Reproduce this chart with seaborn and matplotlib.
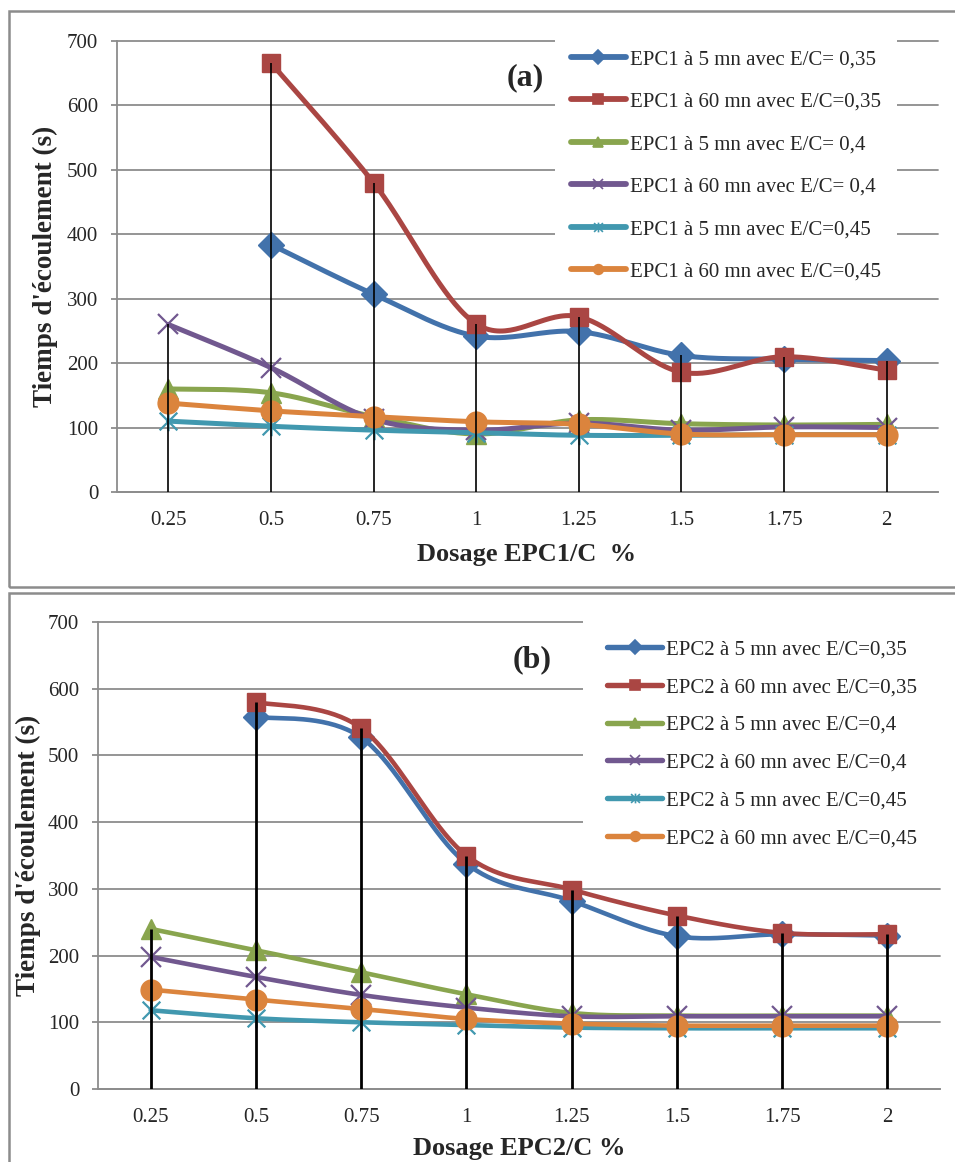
import numpy as np
import matplotlib
matplotlib.use("Agg")
import matplotlib.pyplot as plt
from matplotlib.lines import Line2D
from matplotlib.patches import Rectangle
from matplotlib.path import Path
import seaborn as sns

# ---------------- data ----------------
x_labels = ["0.25", "0.5", "0.75", "1", "1.25", "1.5", "1.75", "2"]
nan = np.nan

labels_a = ["EPC1 à 5 mn avec E/C= 0,35", "EPC1 à 60 mn avec E/C=0,35",
            "EPC1 à 5 mn avec E/C= 0,4", "EPC1 à 60 mn avec E/C= 0,4",
            "EPC1 à 5 mn avec E/C=0,45", "EPC1 à 60 mn avec E/C=0,45"]
a_5_035 = [nan, 384, 307, 242, 249, 212, 206, 204]
a_60_035 = [nan, 666, 480, 261, 272, 186, 210, 189]
a_5_04 = [160, 154, 117, 90, 112, 106, 104, 105]
a_60_04 = [260, 193, 113, 96, 107, 96, 101, 100]
a_5_045 = [110, 102, 96, 92, 88, 88, 89, 89]
a_60_045 = [138, 126, 117, 109, 105, 90, 89, 89]

labels_b = ["EPC2 à 5 mn avec E/C=0,35", "EPC2 à 60 mn avec E/C=0,35",
            "EPC2 à 5 mn avec E/C=0,4", "EPC2 à 60 mn avec E/C=0,4",
            "EPC2 à 5 mn avec E/C=0,45", "EPC2 à 60 mn avec E/C=0,45"]
b_5_035 = [nan, 558, 527, 338, 282, 229, 232, 230]
b_60_035 = [nan, 580, 541, 350, 299, 260, 234, 232]
b_5_04 = [240, 208, 175, 142, 114, 110, 110, 110]
b_60_04 = [198, 168, 141, 122, 109, 109, 109, 109]
b_5_045 = [118, 106, 100, 96, 92, 91, 91, 91]
b_60_045 = [149, 134, 120, 105, 98, 95, 95, 95]

y_ticks = [0, 100, 200, 300, 400, 500, 600, 700]

# ---------------- style ----------------
sns.set_style("white")
plt.rcParams["font.family"] = ["Liberation Serif", "DejaVu Serif"]

colors = ["#4272AB", "#AA4643", "#89A54E", "#71588F", "#4198AF", "#DB843D"]
star = Path([(-1, -1), (1, 1), (-1, 1), (1, -1), (0, -1.1), (0, 1.1)],
            [Path.MOVETO, Path.LINETO, Path.MOVETO, Path.LINETO, Path.MOVETO, Path.LINETO])
markers = ["D", "s", "^", "x", star, "o"]
msizes = [13, 13.5, 14, 14, 14, 15]
mews = [1, 1, 1, 1.6, 1.6, 1]

W, H = 955, 1162
fig = plt.figure(figsize=(W / 100, H / 100), dpi=100)


def fx(px):
    return px / W


def fy(py):
    return 1 - py / H


def smooth(ys, n=40):
    xs = np.arange(len(ys), dtype=float)
    ys = np.asarray(ys, dtype=float)
    m = ~np.isnan(ys)
    P = np.column_stack([xs[m], ys[m]])
    out = []
    for i in range(len(P) - 1):
        p0 = P[i - 1] if i > 0 else P[i]
        p1, p2 = P[i], P[i + 1]
        p3 = P[i + 2] if i + 2 < len(P) else P[i + 1]
        c1 = p1 + (p2 - p0) / 6
        c2 = p2 - (p3 - p1) / 6
        t = np.linspace(0, 1, n)[:, None]
        out.append((1 - t) ** 3 * p1 + 3 * (1 - t) ** 2 * t * c1 + 3 * (1 - t) * t ** 2 * c2 + t ** 3 * p2)
    return np.vstack(out)


def panel(rect, series, labels, lw, droplw, leg_anchor, leg_spacing, leg_pad, tag, tag_xy,
          xlabel, xlabel_xy, ylabel_xy):
    ax = fig.add_axes(rect)
    xs = np.arange(len(x_labels))
    for k, ys in enumerate(series):
        curve = smooth(ys)
        sns.lineplot(x=curve[:, 0], y=curve[:, 1], sort=False, estimator=None,
                     color=colors[k], lw=lw, ax=ax, zorder=3 + k, legend=False)
        ax.plot(xs, ys, ls="none", marker=markers[k], ms=msizes[k], mew=mews[k],
                color=colors[k], mec=colors[k], zorder=3 + k)
    top = np.nanmax(np.array(series, dtype=float), axis=0)
    ax.vlines(xs, 0, top, color="black", lw=droplw, zorder=20)

    ax.set_xlim(-0.5, len(x_labels) - 0.5)
    ax.set_ylim(0, 700)
    ax.set_yticks(y_ticks)
    ax.set_xticks(xs)
    ax.set_xticklabels(x_labels)
    ax.grid(axis="y", color="#8c8c8c", lw=1.3)
    ax.grid(axis="x", visible=False)
    for s in ["top", "right"]:
        ax.spines[s].set_visible(False)
    for s in ["left", "bottom"]:
        ax.spines[s].set_color("#8c8c8c")
        ax.spines[s].set_linewidth(1.3)
    ax.tick_params(axis="y", direction="out", length=4.5, width=1.3, color="#8c8c8c",
                   pad=9, labelsize=15, left=True)
    ax.tick_params(axis="x", length=0, pad=14, labelsize=15)
    for t in ax.get_ygridlines():
        t.set_clip_on(False)

    handles = [Line2D([], [], color=colors[k], lw=lw + 0.6, marker=markers[k],
                      ms=7, mew=1.2, mec=colors[k], solid_capstyle="round")
               for k in range(len(series))]
    leg = ax.legend(handles, labels, loc="upper left", bbox_to_anchor=leg_anchor,
                    bbox_transform=fig.transFigure, borderaxespad=0, borderpad=leg_pad,
                    frameon=True, fancybox=False, edgecolor="none", facecolor="white",
                    framealpha=1, fontsize=15, handlelength=2.65, handletextpad=0.2,
                    labelspacing=leg_spacing)
    leg.set_zorder(30)

    fig.text(fx(tag_xy[0]), fy(tag_xy[1]), tag, fontsize=23, fontweight="bold",
             ha="center", va="center")
    fig.text(fx(xlabel_xy[0]), fy(xlabel_xy[1]), xlabel, fontsize=19, fontweight="bold",
             ha="center", va="center")
    fig.text(fx(ylabel_xy[0]), fy(ylabel_xy[1]), "Tiemps d'écoulement (s)", fontsize=19.5,
             fontweight="bold", ha="center", va="center", rotation=90)
    return ax


panel([fx(117), fy(492), (938 - 117) / W, (492 - 41) / H],
      [a_5_035, a_60_035, a_5_04, a_60_04, a_5_045, a_60_045], labels_a,
      3.6, 1.2, (fx(555), fy(34)), 1.1, 0.75, "(a)", (525, 78),
      "Dosage EPC1/C  %", (527, 555), (45, 266))

panel([fx(98), fy(1089), (940 - 98) / W, (1089 - 622) / H],
      [b_5_035, b_60_035, b_5_04, b_60_04, b_5_045, b_60_045], labels_b,
      3.3, 2.0, (fx(583), fy(616)), 0.87, 1.15, "(b)", (532, 660),
      "Dosage EPC2/C %", (519, 1149), (28, 855))

# panel frames
fig.patches.append(Rectangle((fx(9), fy(587)), fx(975) - fx(9), fy(11) - fy(587),
                             transform=fig.transFigure, fill=False, ec="#8c8c8c", lw=1.8))
fig.patches.append(Rectangle((fx(9), fy(1175)), fx(975) - fx(9), fy(593) - fy(1175),
                             transform=fig.transFigure, fill=False, ec="#8c8c8c", lw=1.8,
                             clip_on=False))

fig.savefig("out.png", dpi=100)
